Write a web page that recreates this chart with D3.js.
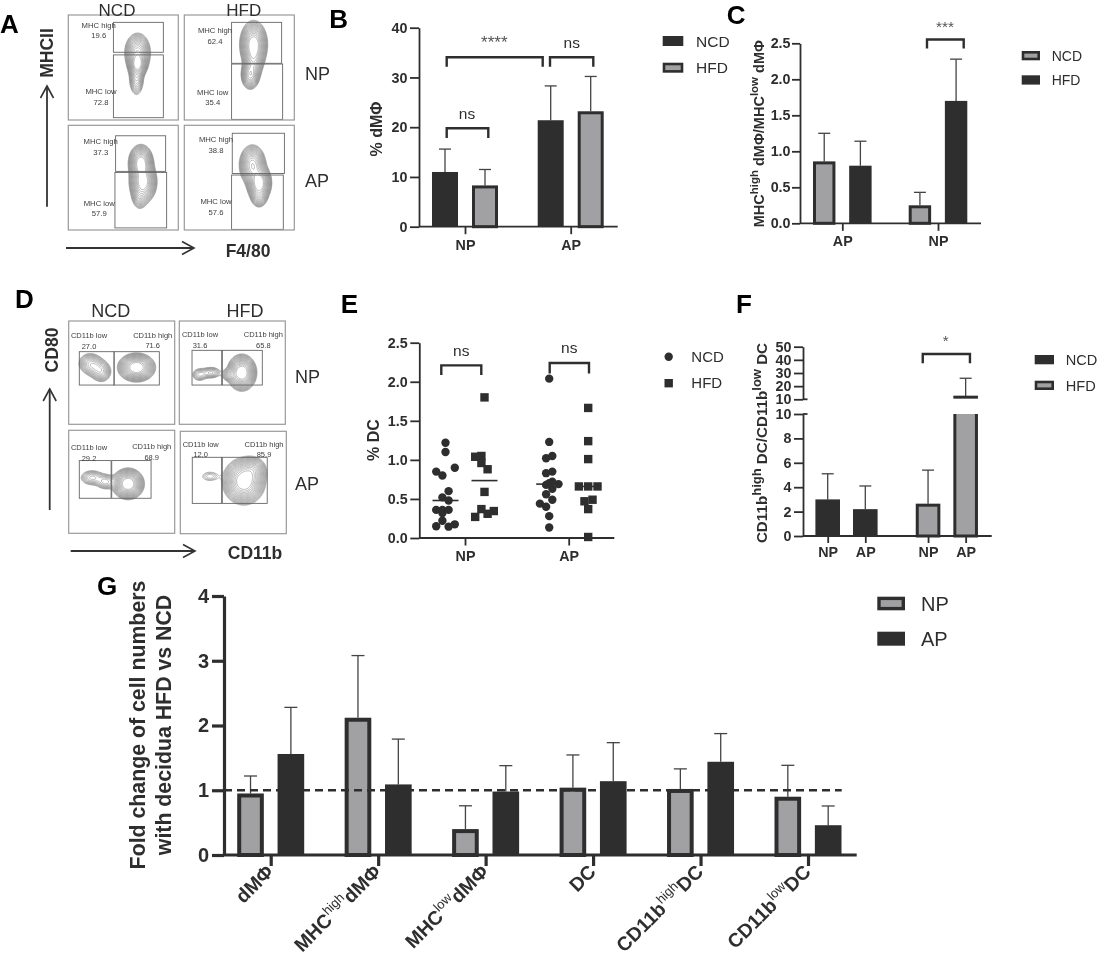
<!DOCTYPE html>
<html>
<head>
<meta charset="utf-8">
<script src="https://cdn.jsdelivr.net/npm/d3@7/dist/d3.min.js"></script>
<style>
  body { margin: 0; background: white; }
  svg { will-change: transform; }
  text { font-family: "Liberation Sans", Arial, sans-serif; fill: #2e2e2e; }
</style>
</head>
<body>
<script>
var w = 1097, h = 956;
var dark = "#2e2e2e", gray = "#a1a1a4";

// panel B
var bGroups = ["NP", "AP"];
var bSeries = ["NCD", "HFD"];
var bMeans = { NCD: [11, 21.4], HFD: [8.3, 23.2] };
var bTops = { NCD: [15.6, 28.3], HFD: [11.5, 30.2] };
var bTicks = [0, 10, 20, 30, 40];

// panel C
var cGroups = ["AP", "NP"];
var cMeans = { NCD: [0.86, 0.25], HFD: [0.8, 1.7] };
var cTops = { NCD: [1.25, 0.43], HFD: [1.14, 2.28] };
var cTicks = [0, 0.5, 1, 1.5, 2, 2.5];

// panel E, [swarm offset, % DC]
var eNpNcd = [[0, 1.22], [0, 1.1], [1.5, 0.9], [-1.5, 0.85], [-0.5, 0.8], [0.5, 0.6], [-0.5, 0.52], [0.5, 0.48],
  [-1.5, 0.36], [-0.5, 0.36], [0.5, 0.36], [-0.5, 0.32], [-0.5, 0.22], [-1.5, 0.15], [0.5, 0.145], [1.5, 0.175]];
var eNpHfd = [[0, 1.8], [-1.5, 1.04], [-0.5, 1.05], [-0.5, 0.96], [0.5, 0.88], [0, 0.59], [-0.5, 0.37], [-1.5, 0.27], [0.5, 0.31], [1.5, 0.345]];
var eApNcd = [[0, 2.04], [0, 1.23], [-0.5, 1.02], [0.5, 1.05], [-0.5, 0.83], [0.5, 0.85], [1.5, 0.69], [0.5, 0.72], [-0.5, 0.68],
  [0, 0.7], [0.5, 0.63], [-0.5, 0.56], [0.5, 0.49], [-1.5, 0.44], [-0.5, 0.4], [0, 0.28], [0, 0.135]];
var eApHfd = [[0, 1.665], [0, 1.24], [0, 1.01], [-1.5, 0.66], [0, 0.66], [1.5, 0.66], [-0.6, 0.47], [0.7, 0.49], [0, 0.37], [0, 0.013]];
var eLines = [0.48, 0.735, 0.69, 0.66];
var eTicks = [0, 0.5, 1, 1.5, 2, 2.5];

// panel F
var fKeys = ["NCD NP", "NCD AP", "HFD NP", "HFD AP"];
var fMeans = [3, 2.2, 2.65, 12];
var fTops = [5.1, 4.1, 5.4, 26];
var fTicksLow = [0, 2, 4, 6, 8, 10];
var fTicksHigh = [10, 20, 30, 40, 50];

// panel G
var gGroups = ["dMΦ", "MHChigh dMΦ", "MHClow dMΦ", "DC", "CD11bhigh DC", "CD11blow DC"];
var gNames = [["", "", "dMΦ"], ["MHC", "high", "dMΦ"], ["MHC", "low", "dMΦ"], ["", "", "DC"], ["CD11b", "high", "DC"], ["CD11b", "low", "DC"]];
var gNp = [0.95, 2.12, 0.4, 1.04, 1.02, 0.9];
var gAp = [1.56, 1.09, 0.98, 1.14, 1.44, 0.46];
var gNpTops = [1.22, 3.08, 0.76, 1.545, 1.33, 1.385];
var gApTops = [2.28, 1.79, 1.38, 1.735, 1.875, 0.757];
var gTicks = [0, 1, 2, 3, 4];

// flow panels: gates and density peaks, in percent of each plot's width and height
// peak = [x, y, sd x, sd y, weight]
var aPeaks = [
  [[63, 36, 5, 8, 0.8], [63, 47, 3.5, 5, 1], [62, 60, 3.2, 8, 0.35]],
  [[63, 28, 5, 9, 1], [60, 57, 3.6, 6, 0.55], [63, 43, 4, 8, 0.4]],
  [[66, 36, 4.5, 7, 1], [68, 54, 5, 8, 1], [65, 68, 3.5, 6, 0.2]],
  [[62, 38, 5, 8, 0.7], [68, 55, 4.5, 7, 1], [68, 68, 3.5, 5, 0.25]]
];
var aGates = [
  [[41, 7, 86.4, 35.5], [41, 38, 86.4, 97.8]],
  [[43, 7, 88.5, 46], [43, 46.7, 89.4, 99.4]],
  [[43, 10, 88.5, 44], [42.4, 45, 89.4, 98]],
  [[43.6, 7.6, 91, 46], [43, 47.5, 90, 99.4]]
];
var aLabels = ["19.6", "72.8", "62.4", "35.4", "37.3", "57.9", "38.8", "57.6"];
var dPeaks = [
  [[20, 41, 5.5, 5, 0.2], [31, 49, 4.5, 5, 0.22], [25, 45, 5, 5, 0.15], [64, 45, 7, 5.5, 1]],
  [[19, 52, 4, 3.5, 0.12], [30, 50, 5, 3, 0.15], [59, 50, 5.5, 7, 1], [48, 52, 4, 3, 0.2]],
  [[22, 46, 6, 4, 0.15], [35, 50, 5, 4, 0.15], [56, 52, 6, 6, 1]],
  [[28, 44, 6, 3.5, 0.07], [60, 49, 8, 9, 1], [68, 38, 6, 6, 0.3]]
];
var dGates = [
  [[10, 29.7, 42.8, 62], [42.8, 29.7, 85.5, 62]],
  [[12, 28.4, 40, 62], [40.6, 28.4, 78.3, 62]],
  [[10, 29.4, 40, 66], [40.6, 29.4, 77.7, 66]],
  [[11.3, 25.4, 39, 70.4], [39.6, 25.4, 82, 70.4]]
];
var dLabels = ["27.0", "71.6", "31.6", "65.8", "29.2", "68.9", "12.0", "85.9"];

var svg = d3.select("body").append("svg")
    .attr("width", w)
    .attr("height", h)
    .style("display", "block");

svg.append("defs").append("marker")
    .attr("id", "openArrow")
    .attr("viewBox", "-14 -8 16 16")
    .attr("refX", 0).attr("refY", 0)
    .attr("markerUnits", "userSpaceOnUse")
    .attr("markerWidth", 16).attr("markerHeight", 16)
    .attr("orient", "auto")
    .append("path")
    .attr("d", "M-12,-6.5 L0,0 L-12,6.5")
    .attr("fill", "none")
    .attr("stroke", "#333")
    .attr("stroke-width", 1.6);

function label(str, x, y, size, weight, anchor, rotate) {
    return svg.append("text")
        .attr("transform", "translate(" + x + "," + y + ")" + (rotate ? " rotate(" + rotate + ")" : ""))
        .attr("text-anchor", anchor || "middle")
        .style("font-size", size + "px")
        .style("font-weight", weight || "normal")
        .text(str);
}

function arrow(x1, y1, x2, y2) {
    svg.append("line")
        .attr("x1", x1).attr("y1", y1).attr("x2", x2).attr("y2", y2)
        .attr("stroke", "#333")
        .attr("stroke-width", 1.8)
        .attr("marker-end", "url(#openArrow)");
}

function bracket(x1, x2, y, drop) {
    svg.append("path")
        .attr("d", d3.line()([[x1, y + drop], [x1, y], [x2, y], [x2, y + drop]]))
        .attr("fill", "none")
        .attr("stroke", dark)
        .attr("stroke-width", 2.4);
}

// x axis line plus y axis, Prism style
function drawAxes(xScale, yScale, opt) {
    var sw = opt.sw || 1.8;
    var yAxis = d3.axisLeft(yScale)
        .tickValues(opt.yTicks)
        .tickFormat(opt.yFormat || d3.format("d"))
        .tickSize(opt.ySize || 9)
        .tickSizeOuter(0)
        .tickPadding(opt.yPad || 2.6);
    var gy = svg.append("g")
        .attr("class", "y axis")
        .attr("transform", "translate(" + opt.left + ",0)")
        .call(yAxis);
    var xAxis = d3.axisBottom(xScale)
        .tickSize(opt.xSize || 7.5)
        .tickPadding(opt.xPad || 6);
    if (opt.xFormat) xAxis.tickFormat(opt.xFormat);
    var gx = svg.append("g")
        .attr("class", "x axis")
        .attr("transform", "translate(0," + yScale(0) + ")")
        .call(xAxis);
    gx.select(".domain").remove();
    if (opt.noXLabels) gx.selectAll("text").remove();
    svg.append("line")
        .attr("x1", opt.left).attr("x2", opt.right)
        .attr("y1", yScale(0)).attr("y2", yScale(0))
        .attr("stroke", dark).attr("stroke-width", sw);
    [gx, gy].forEach(function(g) {
        g.selectAll(".domain").attr("stroke", dark).attr("stroke-width", sw);
        g.selectAll(".tick line").attr("stroke", dark).attr("stroke-width", sw);
        g.selectAll(".tick text")
            .style("font-size", (opt.font || 14.3) + "px")
            .style("font-weight", "bold")
            .style("font-family", "Liberation Sans")
            .attr("fill", dark);
    });
}

function drawBar(yScale, x, width, value, top, fill, opt) {
    var sw = opt.stroke || 3;
    var capw = opt.cap || 12;
    var cx = x + width / 2;
    svg.append("line")
        .attr("x1", cx).attr("x2", cx)
        .attr("y1", yScale(value)).attr("y2", yScale(top))
        .attr("stroke", "#444").attr("stroke-width", 1.3);
    svg.append("line")
        .attr("x1", cx - capw / 2).attr("x2", cx + capw / 2)
        .attr("y1", yScale(top)).attr("y2", yScale(top))
        .attr("stroke", "#444").attr("stroke-width", 1.3);
    var inset = fill == gray ? sw / 2 : 0;
    svg.append("rect")
        .attr("x", x + inset)
        .attr("y", yScale(value) + inset)
        .attr("width", width - inset * 2)
        .attr("height", yScale(0) - yScale(value) - inset)
        .attr("fill", fill)
        .attr("stroke", fill == gray ? dark : "none")
        .attr("stroke-width", sw);
}

function legendBox(x, y, width, height, fill, name, tx, font) {
    var sw = height > 12 ? 3.4 : 2.6;
    var inset = fill == gray ? sw / 2 : 0;
    svg.append("rect")
        .attr("x", x + inset).attr("y", y + inset)
        .attr("width", width - inset * 2).attr("height", height - inset * 2)
        .attr("fill", fill)
        .attr("stroke", fill == gray ? dark : "none")
        .attr("stroke-width", sw);
    label(name, tx, y + height / 2 + font * 0.36, font, "normal", "start");
}

// ---- flow plots ----
function flowPlot(box, peaks, gates) {
    var xs = d3.scaleLinear().domain([0, 100]).range([box[0], box[2]]);
    var ys = d3.scaleLinear().domain([0, 100]).range([box[1], box[3]]);
    var n = 90, grid = new Array(n * n), peak = 0;
    for (var j = 0; j < n; j++) {
        for (var i = 0; i < n; i++) {
            var px = (i + 0.5) * 100 / n, py = (j + 0.5) * 100 / n, sum = 0;
            peaks.forEach(function(p) {
                sum += p[4] * Math.exp(-((px - p[0]) * (px - p[0])) / (2 * p[2] * p[2]) - ((py - p[1]) * (py - p[1])) / (2 * p[3] * p[3]));
            });
            grid[j * n + i] = sum;
            if (sum > peak) peak = sum;
        }
    }
    var levels = d3.range(18).map(function(k) { return peak * 0.035 * Math.pow(1.19, k); });
    var contours = d3.contours().size([n, n]).thresholds(levels)(grid);
    var path = d3.geoPath(d3.geoTransform({
        point: function(x, y) { this.stream.point(xs(x * 100 / n), ys(y * 100 / n)); }
    }));
    svg.append("g").selectAll("path")
        .data(contours)
        .enter()
        .append("path")
        .attr("d", path)
        .attr("fill", "none")
        .attr("stroke", "#7c7c7c")
        .attr("stroke-width", 0.5);
    gates.forEach(function(g) {
        svg.append("rect")
            .attr("x", xs(g[0])).attr("y", ys(g[1]))
            .attr("width", xs(g[2]) - xs(g[0])).attr("height", ys(g[3]) - ys(g[1]))
            .attr("fill", "none")
            .attr("stroke", "#666")
            .attr("stroke-width", 0.9);
    });
    svg.append("rect")
        .attr("x", box[0]).attr("y", box[1])
        .attr("width", box[2] - box[0]).attr("height", box[3] - box[1])
        .attr("fill", "none")
        .attr("stroke", "#9a9a9a")
        .attr("stroke-width", 1.2);
}

function gateText(name, value, x, y1, y2, size) {
    label(name, x, y1, size).style("fill", "#3c3c3c");
    label(value, x, y2, size).style("fill", "#3c3c3c");
}

// panel A
var aBoxes = [[68.3, 15, 178.3, 120], [184.3, 15, 294.3, 120], [68.3, 125.3, 178.3, 230], [184.3, 125.3, 294.3, 230]];
aBoxes.forEach(function(b, i) { flowPlot(b, aPeaks[i], aGates[i]); });
var aSpots = [[98.7, 27.5, 38, 101, 94, 104.5], [215, 32.5, 43.5, 212.7, 94.5, 105], [100.7, 143.7, 154.5, 99.3, 205.5, 215.7], [216, 142, 152.5, 216, 204, 214.5]];
aSpots.forEach(function(s, i) {
    gateText("MHC high", aLabels[i * 2], s[0], s[1], s[2], 7.7);
    gateText("MHC low", aLabels[i * 2 + 1], s[3], s[4], s[5], 7.7);
});
label("NCD", 117, 15.5, 17);
label("HFD", 243.7, 15.5, 17);
label("NP", 305, 80, 18, "normal", "start");
label("AP", 305, 186.7, 18, "normal", "start");
arrow(47, 206.7, 47, 86);
arrow(66, 248, 194, 248);
label("MHCII", 53, 53, 17.5, "bold", "middle", -90);
label("F4/80", 248, 256.7, 17.5, "bold");

// panel D
var dBoxes = [[68.7, 321, 174.7, 424.3], [179.3, 321, 285.3, 424.3], [68.7, 430.3, 174.7, 533.3], [180.3, 431.3, 286.3, 533.7]];
dBoxes.forEach(function(b, i) { flowPlot(b, dPeaks[i], dGates[i]); });
// low x, low name y, low value y, high x, high name y, high value y
var dSpots = [[89, 337.6, 348.6, 152.7, 337.6, 347.6], [200, 337.3, 347.6, 263.3, 337.3, 347.6], [89, 450.3, 461, 151.7, 449.3, 460], [200.7, 446.6, 456.9, 264, 446.6, 456.9]];
dSpots.forEach(function(s, i) {
    gateText("CD11b low", dLabels[i * 2], s[0], s[1], s[2], 7.5);
    gateText("CD11b high", dLabels[i * 2 + 1], s[3], s[4], s[5], 7.5);
});
label("NCD", 110.7, 316.7, 18);
label("HFD", 245, 316.7, 18);
label("NP", 295, 383, 18, "normal", "start");
label("AP", 295, 490, 18, "normal", "start");
arrow(49.7, 510, 49.7, 389);
arrow(70.7, 551, 195, 551);
label("CD80", 58.3, 350, 17.5, "bold", "middle", -90);
label("CD11b", 255, 559, 17.5, "bold");

// ---- panel B ----
var bY = d3.scaleLinear().domain([0, 40]).range([226.7, 27.7]);
var bX = d3.scalePoint().domain(bGroups).range([465, 570.7]);
var bSub = d3.scaleBand().domain(bSeries).range([-33, 33]).paddingInner(0.35);
bSeries.forEach(function(s) {
    bGroups.forEach(function(g, i) {
        drawBar(bY, bX(g) + bSub(s), bSub.bandwidth(), bMeans[s][i], bTops[s][i], s == "NCD" ? dark : gray, {});
    });
});
drawAxes(bX, bY, { left: 419, right: 617.7, yTicks: bTicks });
bracket(bX("NP") - 18.3, bX("AP") - 28, bY(34.05), 9.4);
bracket(bX("AP") - 20.7, bX("AP") + 22.6, bY(34.05), 9.4);
bracket(bX("NP") - 18.3, bX("NP") + 23.3, bY(19.8), 9.7);
label("ns", 467, 119.3, 15.5);
label("ns", 571.7, 48.3, 15.5);
label("****", 494.3, 48, 17).style("fill", "#555");
legendBox(662.7, 36, 20.6, 10, dark, "NCD", 696, 15.5);
legendBox(662.7, 62.7, 20.6, 10, gray, "HFD", 696, 15.5);

// ---- panel C ----
var cY = d3.scaleLinear().domain([0, 2.5]).range([223.3, 43.3]);
var cX = d3.scalePoint().domain(cGroups).range([842.3, 938]);
var cSub = d3.scaleBand().domain(bSeries).range([-29.3, 29.3]).paddingInner(0.38);
bSeries.forEach(function(s) {
    cGroups.forEach(function(g, i) {
        drawBar(cY, cX(g) + cSub(s), cSub.bandwidth(), cMeans[s][i], cTops[s][i], s == "NCD" ? gray : dark, {});
    });
});
drawAxes(cX, cY, { left: 800, right: 981, yTicks: cTicks, yFormat: d3.format(".1f"), ySize: 8, yPad: 1.5, xPad: 5 });
bracket(cX("NP") - 11, cX("NP") + 25.7, cY(2.553), 9);
label("***", 945, 31.7, 15.4).style("fill", "#555");
legendBox(1021.7, 51, 18.3, 9.3, gray, "NCD", 1051.7, 14);
legendBox(1021.7, 75.3, 18.3, 9.3, dark, "HFD", 1051.7, 14);

function supTitle(parts, x, y, size, supSize, rotate, anchor) {
    var t = svg.append("text")
        .attr("transform", "translate(" + x + "," + y + ") rotate(" + rotate + ")")
        .attr("text-anchor", anchor || "middle");
    var lift = size * 0.42;
    parts.forEach(function(p, i) {
        var sup = p.sup;
        var span = t.append("tspan")
            .style("font-size", (sup ? supSize : size) + "px")
            .style("font-weight", p.light ? "normal" : "bold")
            .text(p.text);
        if (sup) span.attr("dy", -lift);
        else if (i > 0 && parts[i - 1].sup) span.attr("dy", lift);
    });
    return t;
}

supTitle([{ text: "MHC" }, { text: "high", sup: true }, { text: "\u00a0dMΦ/MHC" }, { text: "low", sup: true }, { text: "\u00a0dMΦ" }],
    764.3, 133.7, 14.5, 11.5, -90);
label("% dMΦ", 382.3, 129, 16, "bold", "middle", -90);

// ---- panel E ----
var eY = d3.scaleLinear().domain([0, 2.5]).range([538, 342.7]);
var eX = d3.scalePoint().domain(bGroups).range([465, 568.7]);
var eSub = d3.scalePoint().domain(bSeries).range([-19.5, 19.5]);
var eSwarm = d3.scaleLinear().domain([-1, 1]).range([-6.2, 6.2]);
drawAxes(eX, eY, { left: 419.3, right: 614.3, yTicks: eTicks, yFormat: d3.format(".1f"), xPad: 5 });
var eGroups = [
    { group: "NP", series: "NCD", pts: eNpNcd },
    { group: "NP", series: "HFD", pts: eNpHfd },
    { group: "AP", series: "NCD", pts: eApNcd },
    { group: "AP", series: "HFD", pts: eApHfd }
];
eGroups.forEach(function(g, idx) {
    var cx = eX(g.group) + eSub(g.series);
    var sel = svg.append("g").selectAll("*").data(g.pts).enter();
    if (g.series == "NCD") {
        sel.append("circle")
            .attr("cx", function(d) { return cx + eSwarm(d[0]); })
            .attr("cy", function(d) { return eY(d[1]); })
            .attr("r", 4.2)
            .attr("fill", dark);
    } else {
        sel.append("rect")
            .attr("x", function(d) { return cx + eSwarm(d[0]) - 4.2; })
            .attr("y", function(d) { return eY(d[1]) - 4.2; })
            .attr("width", 8.4)
            .attr("height", 8.4)
            .attr("fill", dark);
    }
    svg.append("line")
        .attr("x1", cx - 13).attr("x2", cx + 13)
        .attr("y1", eY(eLines[idx])).attr("y2", eY(eLines[idx]))
        .attr("stroke", dark).attr("stroke-width", 1.6);
});
bracket(eX("NP") - 23.7, eX("NP") + 16.3, eY(2.21), 9.7);
bracket(eX("AP") - 19, eX("AP") + 20.3, eY(2.24), 10.6);
label("ns", 461.3, 355.7, 15.5);
label("ns", 569.3, 353.3, 15.5);
label("% DC", 379.3, 440, 16, "bold", "middle", -90);
svg.append("circle").attr("cx", 668.7).attr("cy", 356.7).attr("r", 4.2).attr("fill", dark);
svg.append("rect").attr("x", 664.5).attr("y", 379).attr("width", 8.4).attr("height", 8.4).attr("fill", dark);
label("NCD", 691.3, 361.7, 15, "normal", "start");
label("HFD", 691.3, 388.2, 15, "normal", "start");

// ---- panel F, y axis broken between 10 and 10 ----
var fLow = d3.scaleLinear().domain([0, 10]).range([536, 414]);
var fHigh = d3.scaleLinear().domain([10, 50]).range([399.3, 346.7]);
var fGroup = d3.scalePoint().domain(bSeries).range([846.5, 946.85]);
var fSub = d3.scalePoint().domain(bGroups).range([-18.8, 18.8]);
var fX = d3.scaleOrdinal().domain(fKeys).range(fKeys.map(function(k) {
    return fGroup(k.split(" ")[0]) + fSub(k.split(" ")[1]);
}));
var fW = 24.6;
fKeys.forEach(function(k, i) {
    var fill = k.indexOf("NCD") == 0 ? dark : gray;
    var x = fX(k) - fW / 2;
    if (fMeans[i] <= 10) {
        drawBar(fLow, x, fW, fMeans[i], fTops[i], fill, {});
    } else {
        // lower part stops open at the break, upper stub above it
        svg.append("path")
            .attr("d", d3.line()([[x + 1.5, fLow(10)], [x + 1.5, fLow(0)], [x + fW - 1.5, fLow(0)], [x + fW - 1.5, fLow(10)]]))
            .attr("fill", fill).attr("stroke", dark).attr("stroke-width", 3);
        svg.append("line")
            .attr("x1", x + fW / 2).attr("x2", x + fW / 2)
            .attr("y1", fHigh(fMeans[i])).attr("y2", fHigh(fTops[i]))
            .attr("stroke", "#444").attr("stroke-width", 1.3);
        svg.append("line")
            .attr("x1", x + fW / 2 - 6).attr("x2", x + fW / 2 + 6)
            .attr("y1", fHigh(fTops[i])).attr("y2", fHigh(fTops[i]))
            .attr("stroke", "#444").attr("stroke-width", 1.3);
        svg.append("line")
            .attr("x1", x).attr("x2", x + fW)
            .attr("y1", fHigh(fMeans[i]) + 0.5).attr("y2", fHigh(fMeans[i]) + 0.5)
            .attr("stroke", dark).attr("stroke-width", 3);
    }
});
drawAxes(fX, fLow, {
    left: 803, right: 991.7, yTicks: fTicksLow, xSize: 7, xPad: 4,
    xFormat: function(k) { return k.split(" ")[1]; }
});
var fUpper = d3.axisLeft(fHigh).tickValues(fTicksHigh).tickSize(9).tickSizeOuter(0).tickPadding(2.6);
var fUpperG = svg.append("g").attr("transform", "translate(803,0)").call(fUpper);
fUpperG.select(".domain").attr("stroke", dark).attr("stroke-width", 1.8);
fUpperG.selectAll(".tick line").attr("stroke", dark).attr("stroke-width", 1.8);
fUpperG.selectAll(".tick text")
    .style("font-size", "14.3px").style("font-weight", "bold")
    .style("font-family", "Liberation Sans").attr("fill", dark);
// the two short caps either side of the break
[fHigh(10), fLow(10)].forEach(function(y) {
    svg.append("line")
        .attr("x1", 803).attr("x2", 807.5)
        .attr("y1", y).attr("y2", y)
        .attr("stroke", dark).attr("stroke-width", 1.8);
});
bracket(fX("HFD NP") - 5.3, fX("HFD AP") + 4.3, fHigh(44.5), 9.3);
label("*", 945.7, 346, 15).style("fill", "#555");
supTitle([{ text: "CD11b" }, { text: "high", sup: true }, { text: "\u00a0DC/CD11b" }, { text: "low", sup: true }, { text: "\u00a0DC" }],
    767.3, 443, 15.2, 13, -90);
legendBox(1034.7, 355, 19.3, 9.3, dark, "NCD", 1065.7, 14.6);
legendBox(1034.7, 380.7, 19.3, 9.3, gray, "HFD", 1065.7, 14.6);

// ---- panel G ----
var gY = d3.scaleLinear().domain([0, 4]).range([855, 596]);
var gX = d3.scalePoint().domain(gGroups).range([270.7, 808]);
var gSub = d3.scaleBand().domain(["NP", "AP"]).range([-33.5, 33.5]).paddingInner(0.34);
gGroups.forEach(function(g, i) {
    drawBar(gY, gX(g) + gSub("NP"), gSub.bandwidth(), gNp[i], gNpTops[i], gray, { stroke: 4, cap: 13 });
    drawBar(gY, gX(g) + gSub("AP"), gSub.bandwidth(), gAp[i], gApTops[i], dark, { stroke: 4, cap: 13 });
});
drawAxes(gX, gY, { left: 224, right: 856.7, yTicks: gTicks, ySize: 12, yPad: 3, xSize: 11, sw: 3.2, font: 20, noXLabels: true });
svg.append("line")
    .attr("x1", 224).attr("x2", 841.7)
    .attr("y1", gY(1)).attr("y2", gY(1))
    .attr("stroke", dark)
    .attr("stroke-width", 2.4)
    .attr("stroke-dasharray", "8,5");
gGroups.forEach(function(g, i) {
    var name = gNames[i];
    var parts = name[0] ? [{ text: name[0] }, { text: name[1], sup: true, light: true }, { text: name[2] }] : [{ text: name[2] }];
    supTitle(parts, gX(g) + 4, 873, 19.5, 13, -45, "end");
});
label("Fold change of cell numbers", 145, 725, 21.3, "bold", "middle", -90);
label("with decidua HFD vs NCD", 171, 725, 21.3, "bold", "middle", -90);
legendBox(877.3, 596.7, 27.7, 13.6, gray, "NP", 921, 20);
legendBox(877.3, 631.7, 27.7, 14, dark, "AP", 921, 20);

// panel letters
[["A", 0, 33], ["B", 329.3, 28], ["C", 726.7, 24], ["D", 15, 308], ["E", 340.7, 313], ["F", 736, 313], ["G", 97, 595]].forEach(function(d) {
    label(d[0], d[1], d[2], 26, "bold", "start").style("fill", "black");
});
</script>
</body>
</html>
